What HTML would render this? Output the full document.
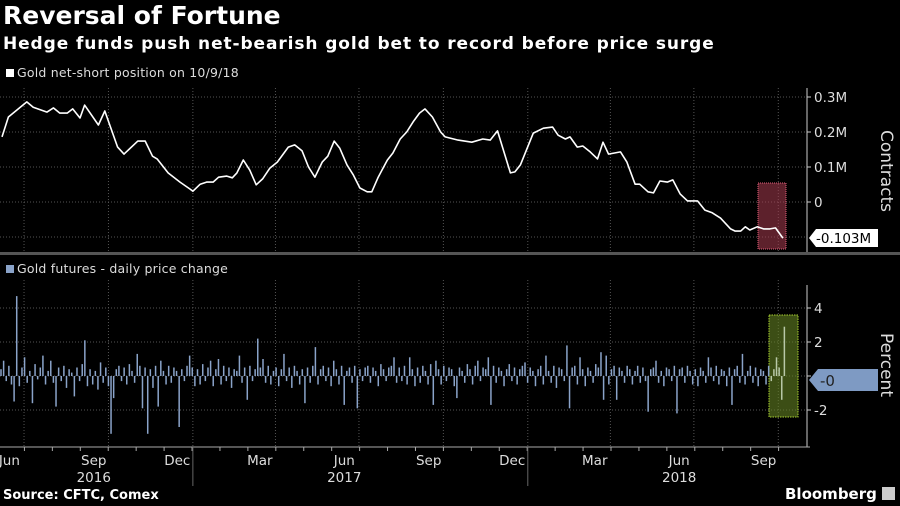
<!DOCTYPE html>
<html><head><meta charset="utf-8">
<style>
html,body{margin:0;padding:0;background:#000;}
body{width:900px;height:506px;overflow:hidden;position:relative;font-family:"DejaVu Sans","Liberation Sans",sans-serif;color:#fff;}
.t{position:absolute;white-space:nowrap;}
</style></head><body>
<div class="t" style="left:3px;top:1px;font-size:25px;font-weight:bold;">Reversal of Fortune</div>
<div class="t" style="left:3px;top:34px;font-size:17px;font-weight:bold;letter-spacing:0.9px;">Hedge funds push net-bearish gold bet to record before price surge</div>
<div class="t" style="left:6px;top:65px;font-size:12.5px;color:#ddd;letter-spacing:0.2px;"><span style="display:inline-block;width:8px;height:8px;background:#fff;margin-right:3px;"></span>Gold net-short position on 10/9/18</div>
<div class="t" style="left:6px;top:261px;font-size:12.5px;color:#ddd;letter-spacing:0.2px;"><span style="display:inline-block;width:8px;height:8px;background:#8aa3c9;margin-right:3px;"></span>Gold futures - daily price change</div>
<div class="t" style="left:3px;top:488px;font-size:13px;font-weight:bold;">Source: CFTC, Comex</div>
<div class="t" style="left:785px;top:485px;font-size:15px;font-weight:bold;">Bloomberg <span style="display:inline-block;width:13px;height:13px;background:#ccc;vertical-align:-1px;"></span></div>
<svg id="c" width="900" height="506" style="position:absolute;left:0;top:0"></svg>
<script>
// Net-short position (thousand contracts), day offsets from 2016-06-01
const posDays = [6,13,33,40,55,62,69,77,83,91,96,111,118,132,139,154,162,170,175,187,200,211,214,222,229,236,242,251,257,262,269,276,283,290,298,306,318,325,333,340,347,355,361,368,374,382,389,396,404,409,416,426,432,440,447,454,461,467,475,484,489,503,518,530,538,546,560,565,571,585,596,606,612,620,625,633,639,647,655,661,667,680,687,696,701,710,716,723,731,737,745,753,764,772,780,789,800,805,811,816,821,829,836,843,849,857];
const posValues = [186,243,286,271,257,269,254,254,266,240,277,220,260,157,137,174,174,131,123,83,57,37,31,51,57,57,71,74,69,83,120,91,49,66,97,114,157,163,146,100,71,114,131,174,154,106,77,40,29,29,71,120,140,180,200,229,254,266,243,200,186,177,171,180,177,203,83,86,106,197,211,214,191,180,186,157,160,143,123,171,137,143,114,51,51,29,26,60,57,63,23,3,3,-23,-31,-46,-77,-83,-83,-71,-80,-71,-77,-77,-74,-103];
const posTicks = [300,200,100,0];
const posTickLabels = ["0.3M","0.2M","0.1M","0"];
// Daily price change (%), sampled trading days
const priceChange = [0.4,0.9,-0.3,0.6,-0.5,-1.5,4.7,-0.6,0.5,1.1,-0.4,0.3,-1.6,0.7,-0.2,0.5,1.2,-0.5,0.3,0.9,
-0.4,-1.8,0.5,-0.3,0.6,-0.7,0.4,0.2,-1.2,0.5,-0.3,0.7,2.1,-0.6,0.4,-0.5,0.3,-0.8,0.8,-0.4,
0.5,-0.6,-3.4,-1.3,0.4,0.6,-0.3,0.5,-0.5,0.7,0.3,-0.4,1.3,0.6,-1.9,0.5,-3.4,0.4,-0.7,0.6,
-1.8,0.9,0.3,-0.5,0.6,-0.4,0.5,0.3,-3.0,0.4,-0.3,0.6,1.2,0.5,-0.6,0.4,-0.5,0.7,-0.3,0.5,
0.9,-0.6,0.4,1.0,-0.5,0.6,-0.3,0.5,-0.7,0.4,0.3,1.2,-0.4,0.5,-1.4,0.6,-0.3,0.4,2.2,0.5,
1.0,-0.4,0.6,-0.5,0.3,0.5,-0.6,0.4,1.3,-0.3,0.5,-0.7,0.6,0.3,-0.5,0.4,-1.6,0.5,-0.4,0.6,
1.7,-0.5,0.4,0.6,-0.3,0.5,-0.6,0.9,0.4,-0.5,0.6,-1.7,0.3,0.5,-0.4,0.6,-1.9,0.4,-0.3,0.5,
0.6,-0.4,0.5,0.3,-0.6,0.7,0.4,-0.3,0.5,0.6,1.1,-0.4,0.5,-0.3,0.6,-0.5,1.1,0.4,-0.6,0.5,
-0.4,0.6,0.3,-0.5,0.7,-1.7,0.9,0.4,-0.5,0.6,-0.3,0.5,0.4,-0.6,-1.3,0.5,0.3,-0.4,0.7,0.4,
-0.5,0.6,0.9,-0.3,0.5,0.4,1.1,-1.7,0.6,-0.4,0.5,0.3,-0.6,0.4,0.7,-0.3,0.5,-0.5,0.4,0.6,
0.8,-0.4,0.5,0.3,-0.6,0.4,0.6,-0.5,1.2,0.3,-0.4,0.6,-0.7,0.5,0.4,-0.3,1.8,-1.9,0.5,0.6,
-0.5,1.1,0.4,-0.6,0.5,0.3,-0.4,0.7,0.5,1.4,-1.4,1.2,-0.5,0.4,0.6,-1.4,0.5,0.3,-0.4,0.6,
0.4,-0.5,0.3,0.6,-0.4,0.5,-0.3,-2.1,0.4,0.5,0.9,-0.4,0.3,-0.6,0.5,0.4,-0.3,0.6,-2.2,0.4,
0.5,-0.4,0.6,0.3,-0.5,0.4,-0.6,0.5,0.3,-0.4,1.1,0.5,-0.3,0.6,-0.5,0.4,0.3,-0.6,0.5,-1.7,
0.4,0.6,-0.4,1.3,-0.5,0.3,0.6,-0.4,0.5,-0.6,0.4,0.3,-0.5,0.6,-0.3,0.4,1.1,0.5,-1.4,2.9];
const pctTicks = [4,2,0,-2];
const pctTickLabels = ["4","2","0","-2"];
const monthLabels = ["Jun","Sep","Dec","Mar","Jun","Sep","Dec","Mar","Jun","Sep"];
const monthLabelDays = [14,106,197,287,379,471,562,652,744,836];
const yearLabels = ["2016","2017","2018"];
const yearLabelDays = [106,379,744];
const yearStartDays = [214,579];
const quarterDays = [30,122,214,304,395,487,579,669,760,852];

const svg = document.getElementById('c');
const NS = 'http://www.w3.org/2000/svg';
const FF = 'DejaVu Sans, Liberation Sans, sans-serif';
function mk(tag, attrs){const e=document.createElementNS(NS,tag);for(const k in attrs)e.setAttribute(k,attrs[k]);svg.appendChild(e);return e;}
const xDay = d => -3.5 + d*0.9176;
const yPos = v => 202 - v*0.35;
const yPct = v => 376 - v*17;
const xIdx = i => 1 + i*2.62;

for(const d of quarterDays){
  const g1 = mk('line',{x1:xDay(d),x2:xDay(d),y1:88,y2:252,stroke:'#555','stroke-dasharray':'1,2'});
  
  
  const g2 = mk('line',{x1:xDay(d),x2:xDay(d),y1:280,y2:447,stroke:'#555','stroke-dasharray':'1,2'});
  
  
}
for(const v of [300,200,100,0,-100]){
  const g = mk('line',{x1:0,x2:807,y1:yPos(v),y2:yPos(v),stroke:'#555','stroke-dasharray':'1,2'});
  
  
}
for(const v of pctTicks){
  const g = mk('line',{x1:0,x2:807,y1:yPct(v),y2:yPct(v),stroke:'#555','stroke-dasharray':'1,2'});
  
  
}
const dv = mk('rect',{x:0,y:252,width:900,height:3,fill:'#555'});



const rb = mk('rect',{x:758,y:183,width:28,height:66,fill:'rgba(170,60,80,0.55)',stroke:'#e0607a','stroke-dasharray':'1,1'});


const gb = mk('rect',{x:769,y:315,width:29,height:102,fill:'rgba(100,130,35,0.6)',stroke:'#a8d030','stroke-dasharray':'1.5,1'});



const pts = posDays.map((d,i)=>xDay(d).toFixed(1)+','+yPos(posValues[i]).toFixed(1)).join(' ');
const ln = mk('polyline',{points:pts,fill:'none',stroke:'#fff','stroke-width':1.6,'stroke-linejoin':'round'});



priceChange.forEach((v,i)=>{
  const x = xIdx(i);
  const y0 = yPct(0), y1 = yPct(v);
  const b = mk('rect',{x:x-0.75,y:Math.min(y0,y1),width:1.5,height:Math.max(0.5,Math.abs(y1-y0)),fill: x>769 ? '#b8c8a8' : '#8aa3c9'});
  
  
});

const ax1 = mk('line',{x1:807,x2:807,y1:88,y2:252,stroke:'#ccc'});


const ax2 = mk('line',{x1:807,x2:807,y1:285,y2:447,stroke:'#ccc'});


const ax3 = mk('line',{x1:0,x2:810,y1:447,y2:447,stroke:'#aaa'});


posTicks.forEach((v,i)=>{
  const tk = mk('line',{x1:807,x2:811,y1:yPos(v),y2:yPos(v),stroke:'#ccc'});
  
  
  const t = mk('text',{x:814,y:yPos(v)+5,fill:'#ddd','font-size':13.5,'font-family':FF});
  t.textContent = posTickLabels[i];
  
  
});
pctTicks.forEach((v,i)=>{
  const tk = mk('line',{x1:807,x2:811,y1:yPct(v),y2:yPct(v),stroke:'#ccc'});
  
  
  if(v===0) return;
  const t = mk('text',{x:814,y:yPct(v)+5,fill:'#ddd','font-size':13.5,'font-family':FF});
  t.textContent = pctTickLabels[i];
  
  
});
for(let d=0; d<=880; d+=30.44){
  const tk = mk('line',{x1:xDay(d),x2:xDay(d),y1:447,y2:451,stroke:'#aaa'});
  
  
}
monthLabels.forEach((m,i)=>{
  const t = mk('text',{x:xDay(monthLabelDays[i]),y:465,fill:'#ddd','font-size':13.5,'text-anchor':'middle','font-family':FF});
  t.textContent = m;
  
  
});
yearLabels.forEach((m,i)=>{
  const t = mk('text',{x:xDay(yearLabelDays[i]),y:482,fill:'#ddd','font-size':13.5,'text-anchor':'middle','font-family':FF});
  t.textContent = m;
  
  
});
yearStartDays.forEach(d=>{
  const s = mk('line',{x1:xDay(d),x2:xDay(d),y1:447,y2:486,stroke:'#666'});
  
  
});
const ct = mk('text',{x:0,y:0,fill:'#ddd','font-size':17,'text-anchor':'middle','font-family':FF,transform:'translate(881,171) rotate(90)'});
ct.textContent='Contracts';


const pt = mk('text',{x:0,y:0,fill:'#ddd','font-size':17,'text-anchor':'middle','font-family':FF,transform:'translate(881,365) rotate(90)'});
pt.textContent='Percent';


const lastPos = posValues[posValues.length-1];
const ly = yPos(lastPos);
const lb = mk('path',{d:`M809 ${ly} L816 ${ly-9} L878 ${ly-9} L878 ${ly+9} L816 ${ly+9} Z`,fill:'#fff'});


const lt = mk('text',{x:816,y:ly+5,fill:'#000','font-size':13.5,'font-family':FF});
lt.textContent = (lastPos/1000).toFixed(3)+'M';


const py = 380;
const pb = mk('path',{d:`M809 ${py} L818 ${py-11} L878 ${py-11} L878 ${py+11} L818 ${py+11} Z`,fill:'#7e9ac3'});


const ptx = mk('text',{x:820,y:py+6,fill:'#222','font-size':15,'font-family':FF});
ptx.textContent = '-0';


</script>
</body></html>
